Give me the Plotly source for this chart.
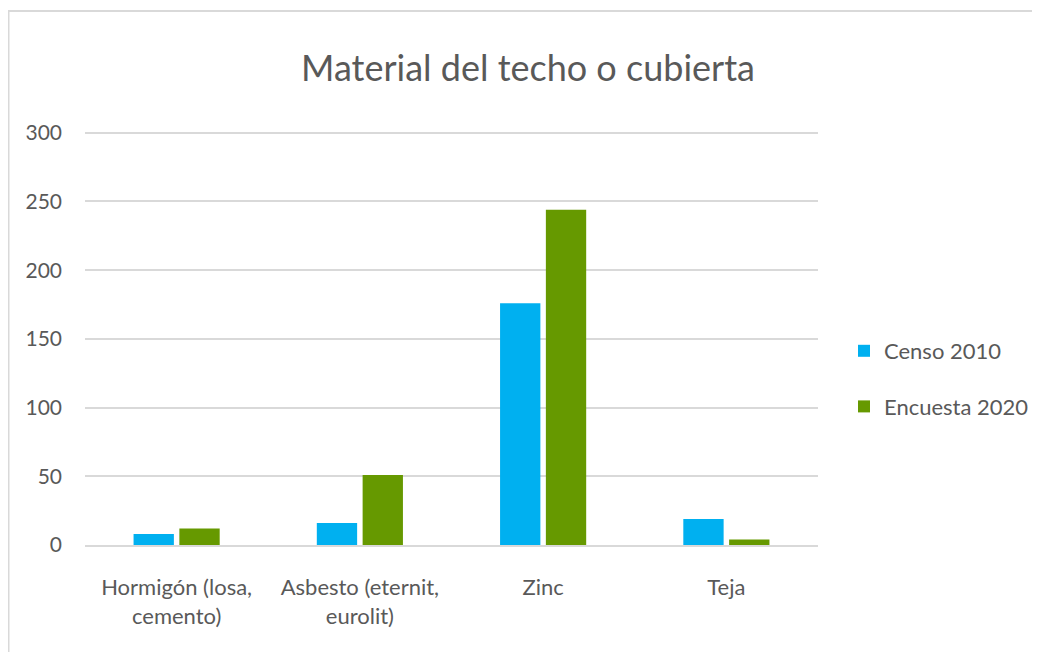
import plotly.graph_objects as go

categories = ["Hormigón (losa,<br>cemento)", "Asbesto (eternit,<br>eurolit)", "Zinc", "Teja"]
censo_2010 = [8, 16, 176, 19]
encuesta_2020 = [12, 51, 244, 4]
tick_vals = [0, 50, 100, 150, 200, 250, 300]

FONT = "Lato, 'Open Sans', sans-serif"
GREY = "#595959"
LINE = "#D9D9D9"

fig = go.Figure()
fig.add_trace(go.Bar(name="Censo 2010", x=categories, y=censo_2010,
                     marker=dict(color="#00B0F0", line=dict(width=0)),
                     legendgroup="a"))
fig.add_trace(go.Bar(name="Encuesta 2020", x=categories, y=encuesta_2020,
                     marker=dict(color="#669900", line=dict(width=0)),
                     legendgroup="b"))

# page is offset by 8px (body margin); figure coordinates = page - 8
W, H = 1032, 644
L, T = 77, 122
pw, ph = 733, 415
R, B = W - L - pw, H - T - ph

def px_x(x):  # figure px -> paper x
    return (x - L) / pw

def px_y(y):  # figure px -> paper y
    return 1 - (y - T) / ph

fig.update_layout(
    width=W, height=H,
    margin=dict(l=L, r=R, t=T, b=B, autoexpand=False),
    paper_bgcolor="white", plot_bgcolor="white",
    barmode="group", bargap=0.5, bargroupgap=0.12,
    font=dict(family=FONT, color=GREY, size=22),
    title=dict(text="Material del techo o cubierta", x=520 / W,
               xanchor="center", y=1 - 60 / H, yanchor="middle",
               font=dict(size=36, color=GREY, family=FONT)),
    xaxis=dict(showgrid=False, showline=True, linecolor=LINE, linewidth=2,
               ticks="", tickfont=dict(size=22, color=GREY), ticklabelstandoff=22),
    yaxis=dict(range=[0, 302], tickvals=tick_vals, showgrid=True, gridcolor=LINE,
               gridwidth=2, zeroline=False, showline=False, ticks="",
               tickfont=dict(size=21, color=GREY), ticklabelstandoff=22),
    legend=dict(x=px_x(836), xanchor="left", y=px_y(322), yanchor="top",
                traceorder="grouped", tracegroupgap=24, font=dict(size=22, color=GREY),
                itemwidth=30, bgcolor="rgba(0,0,0,0)"),
    shapes=[dict(type="path", xref="paper", yref="paper",
                 path=f"M {px_x(0.5)},{px_y(H + 20)} L {px_x(0.5)},{px_y(3)} L {px_x(W + 20)},{px_y(3)}",
                 line=dict(color=LINE, width=2), layer="below")],
)

fig.write_html("out.html")
